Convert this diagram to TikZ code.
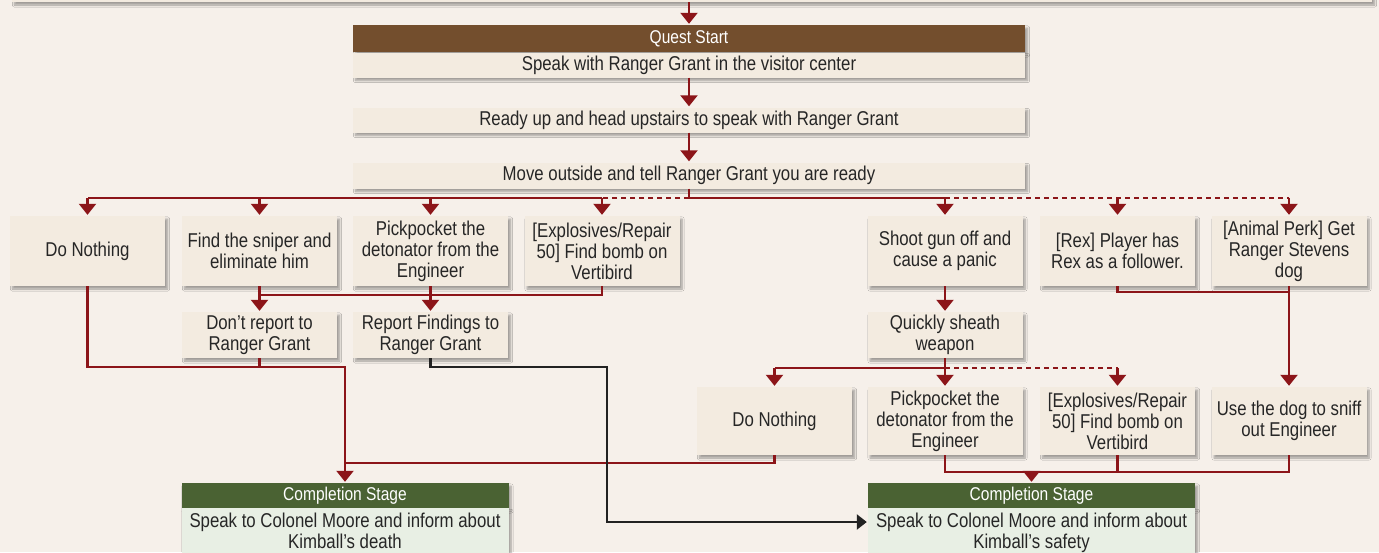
\documentclass[tikz,border=0pt]{standalone}
\usepackage{fontspec}
\setmainfont{Liberation Sans}[FakeStretch=0.84]
\usetikzlibrary{arrows.meta,shadows.blur,calc}
\definecolor{bgc}{HTML}{F6F0EA}
\definecolor{boxc}{HTML}{F3EBE0}
\definecolor{brownh}{HTML}{734E2D}
\definecolor{greenh}{HTML}{4A6233}
\definecolor{greenb}{HTML}{E8EFE4}
\definecolor{redl}{HTML}{8C1519}
\definecolor{blkl}{HTML}{222222}
\tikzset{
  shad/.style={blur shadow={shadow xshift=2.5pt,shadow yshift=-3pt,shadow blur steps=6,shadow opacity=35}},
  box/.style={shad,fill=boxc,draw=none,inner sep=0pt,minimum width=155pt,align=center,font=\fontsize{20}{21}\selectfont,text=black!85},
  wide/.style={box,minimum width=672pt},
  head/.style={fill=#1,draw=none,inner sep=0pt,align=center,font=\fontsize{18.5}{20}\selectfont,text=white,minimum height=26pt},
  rl/.style={draw=redl,line width=2.3pt},
  bl/.style={draw=blkl,line width=2.3pt},
  dsh/.style={dash pattern=on 5pt off 4pt},
  arr/.style={-{Triangle[width=17pt,length=11pt]},shorten >=1pt},
}
\begin{document}
\begin{tikzpicture}[x=1pt,y=-1pt]
\useasboundingbox[fill=bgc] (0,0) rectangle (1379,552);
% top cut-off box
\node[box,minimum width=1360pt,minimum height=40pt] (prev) at (692,-18) {};
% quest start
\node[head=brownh,shad,minimum width=672pt,minimum height=27pt] (qsh) at (689,38.5) {Quest Start};
\node[wide,minimum height=25pt] (qs) at (689,65) {Speak with Ranger Grant in the visitor center};
\node[wide,minimum height=25pt] (ready) at (689,120) {Ready up and head upstairs to speak with Ranger Grant};
\node[wide,minimum height=26pt] (move) at (689,175.5) {Move outside and tell Ranger Grant you are ready};
% top row
\node[box,minimum height=70pt] (dn1) at (87.5,251) {Do Nothing};
\node[box,minimum height=70pt] (snp) at (259.5,251) {Find the sniper and\\eliminate him};
\node[box,minimum height=70pt] (pick1) at (430.5,251) {Pickpocket the\\detonator from the\\Engineer};
\node[box,minimum height=70pt] (exp1) at (602,251) {[Explosives/Repair\\50] Find bomb on\\Vertibird};
\node[box,minimum height=70pt] (shoot) at (945,251) {Shoot gun off and\\cause a panic};
\node[box,minimum height=70pt] (rex) at (1117.5,251) {[Rex] Player has\\Rex as a follower.};
\node[box,minimum height=70pt] (anim) at (1289,251) {[Animal Perk] Get\\Ranger Stevens\\dog};
% second row
\node[box,minimum height=46pt] (dont) at (259.5,335) {Don’t report to\\Ranger Grant};
\node[box,minimum height=46pt] (rep) at (430.5,335) {Report Findings to\\Ranger Grant};
\node[box,minimum height=46pt] (sheath) at (945,335) {Quickly sheath\\weapon};
% third row
\node[box,minimum height=68pt] (dn2) at (774.5,421) {Do Nothing};
\node[box,minimum height=68pt] (pick2) at (945,421) {Pickpocket the\\detonator from the\\Engineer};
\node[box,minimum height=68pt] (exp2) at (1117.5,421) {[Explosives/Repair\\50] Find bomb on\\Vertibird};
\node[box,minimum height=68pt] (use) at (1289,421) {Use the dog to sniff\\out Engineer};
% completion stages
\node[head=greenh,shad,minimum width=327pt,minimum height=25pt] (c1h) at (345,495.5) {Completion Stage};
\node[box,fill=greenb,minimum width=327pt,anchor=north,inner ysep=5pt,text depth=12pt] (c1b) at (c1h.south) {Speak to Colonel Moore and inform about\\Kimball’s death};
\node[head=greenh,shad,minimum width=327pt,minimum height=25pt] (c2h) at (1031.5,495.5) {Completion Stage};
\node[box,fill=greenb,minimum width=327pt,anchor=north,inner ysep=5pt,text depth=12pt] (c2b) at (c2h.south) {Speak to Colonel Moore and inform about\\Kimball’s safety};
\node[head=greenh,minimum width=327pt,minimum height=25pt] at (c1h) {Completion Stage};
\node[head=greenh,minimum width=327pt,minimum height=25pt] at (c2h) {Completion Stage};
\node[head=brownh,minimum width=672pt,minimum height=27pt] at (qsh) {Quest Start};

% top chain
\draw[rl,arr] (prev.south -| qsh.north) -- (qsh.north);
\draw[rl,arr] (qs.south) -- (ready.north);
\draw[rl,arr] (ready.south) -- (move.north);
% first bus
\coordinate (b0) at ($(move.south)+(0,9)$);
\draw[rl] (move.south) -- (b0);
\draw[rl] (b0 -| exp1.north) -- (b0 -| dn1.north);
\draw[rl,dsh] (b0) -- (b0 -| exp1.north);
\draw[rl] (b0) -- (b0 -| shoot.north);
\draw[rl,dsh] (b0 -| shoot.north) -- (b0 -| anim.north);
\foreach \n in {dn1,snp,pick1,exp1,shoot,rex,anim}
  \draw[rl,arr] (b0 -| \n.north) -- (\n.north);
% left merge
\coordinate (c1) at ($(snp.south)+(0,9)$);
\draw[rl] (snp.south) -- (c1) -| (exp1.south);
\draw[rl] (pick1.south) -- (pick1.south |- c1);
\draw[rl,arr] (c1) -- (dont.north);
\draw[rl,arr] (pick1.south |- c1) -- (rep.north);
% to completion left
\coordinate (j1) at (345,367);
\coordinate (j2) at (345,463);
\draw[rl] (dont.south) -- (dont.south |- j1);
\draw[rl] (dn2.south) |- (j2);
% black route
\coordinate (k1) at (607,367);
\coordinate (k2) at (607,522);
\draw[bl,-{Triangle[width=15pt,length=10pt]},shorten >=1pt] (rep.south) |- (k1) -- (k2) -- (k2 -| c2b.west);
\draw[rl,arr] (dn1.south) |- (j1) -- (c1h.north);
% right side
\draw[rl,arr] (shoot.south) -- (sheath.north);
\coordinate (j5) at ($(sheath.south)+(0,10)$);
\draw[rl] (sheath.south) -- (j5) -- (j5 -| dn2.north);
\draw[rl,dsh] (j5) -- (j5 -| exp2.north);
\foreach \n in {dn2,pick2,exp2}
  \draw[rl,arr] (j5 -| \n.north) -- (\n.north);
\coordinate (r1) at ($(rex.south)+(0,6)$);
\draw[rl] (rex.south) -- (r1) -- (r1 -| anim.south);
\draw[rl,arr] (anim.south) -- (use.north);
\coordinate (j6) at ($(pick2.south)+(0,17)$);
\draw[rl] (pick2.south) -- (j6) -| (use.south);
\draw[rl] (exp2.south) -- (exp2.south |- j6);
\draw[rl,arr] (j6 -| c2h.north) -- (c2h.north);
\end{tikzpicture}
\end{document}
